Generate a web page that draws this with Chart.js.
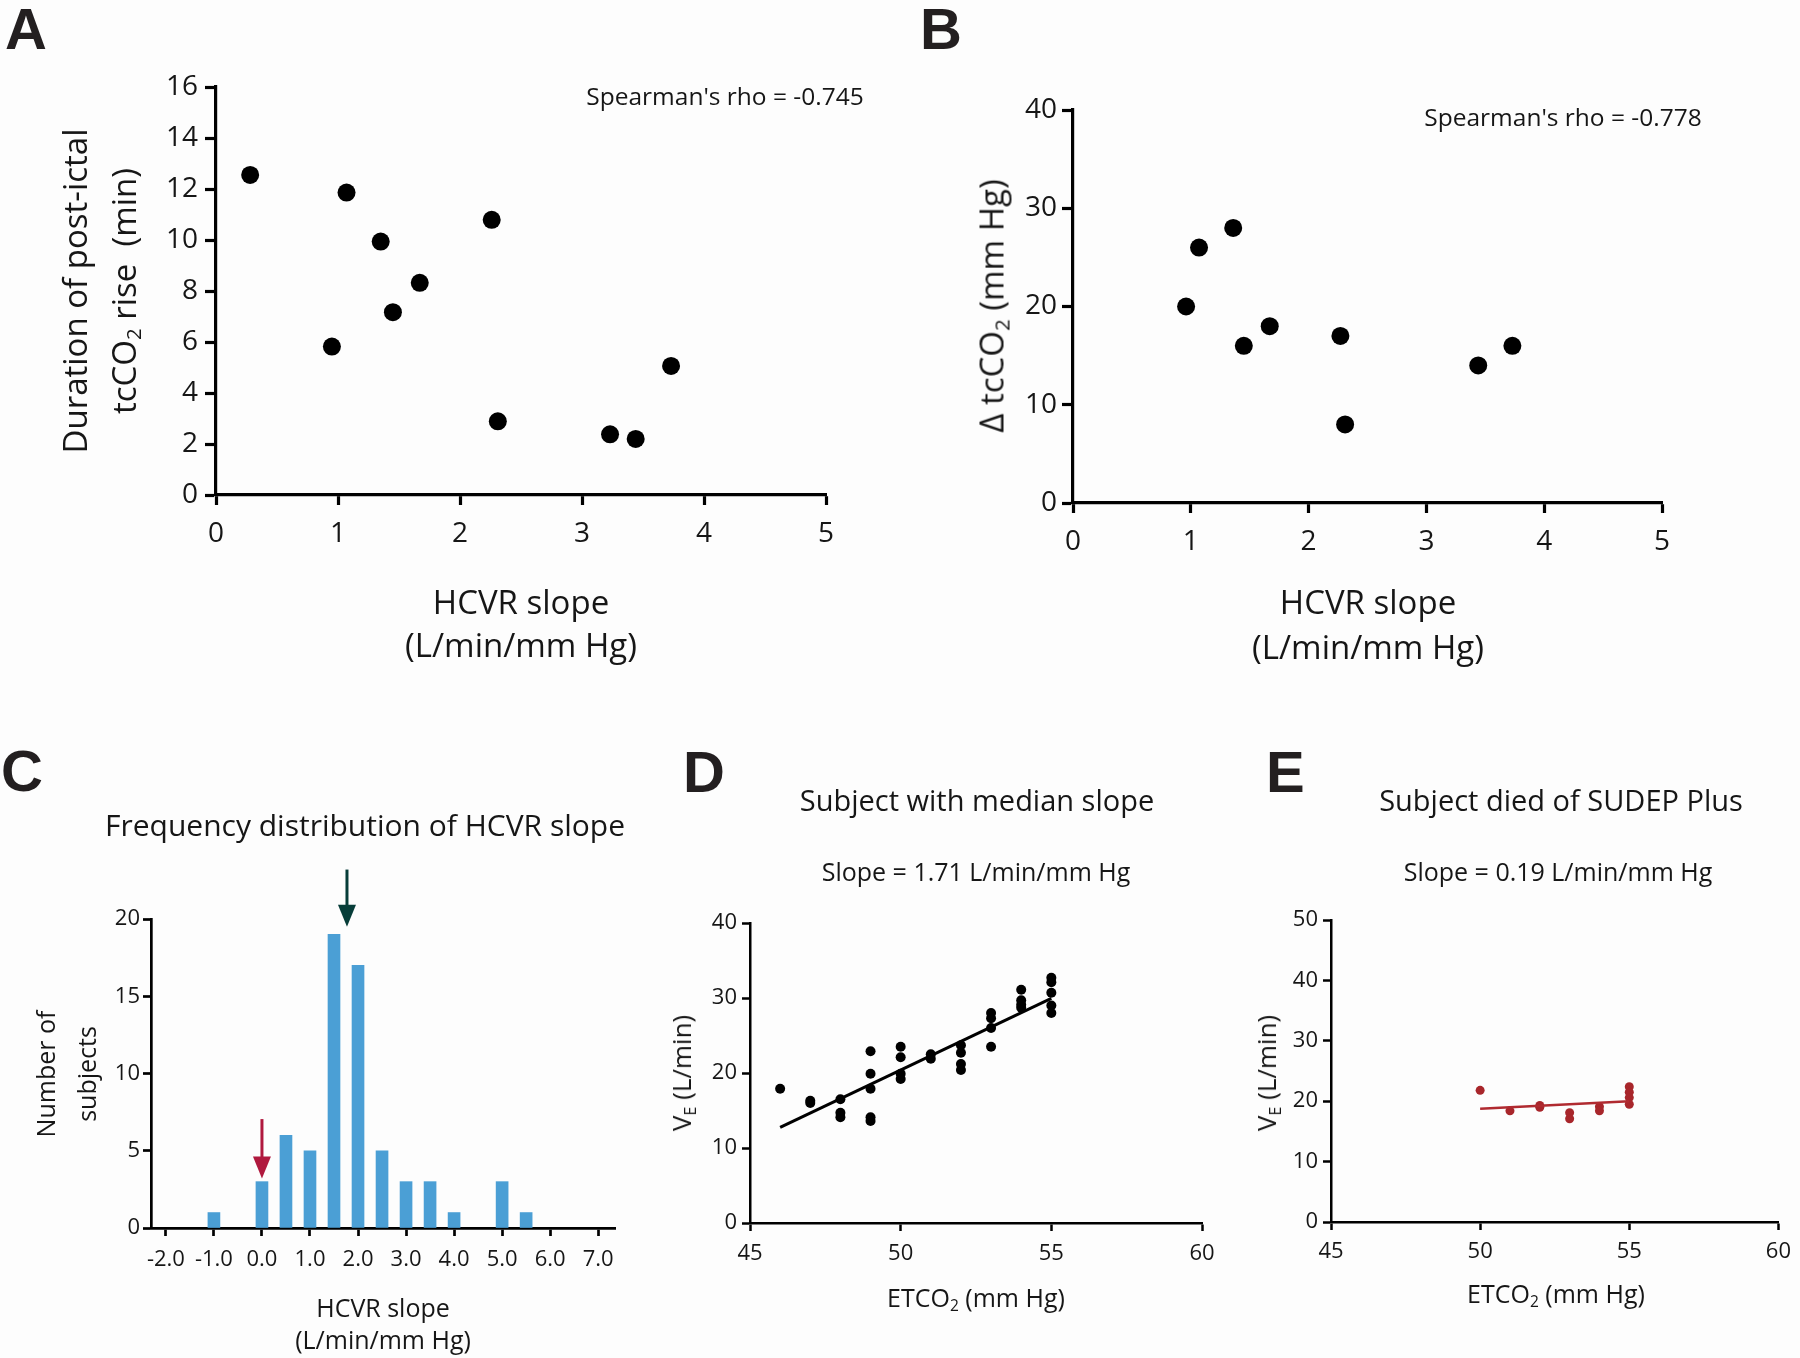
<!DOCTYPE html>
<html>
<head>
<meta charset="utf-8">
<title>HCVR slope figure</title>
<script src="https://cdn.jsdelivr.net/npm/chart.js@4.4.1/dist/chart.umd.min.js"></script>
<style>
  body { margin: 0; background: #fdfdfd; }
  #figure { position: relative; width: 1800px; height: 1358px; overflow: hidden; font-family: 'Open Sans', sans-serif; color: #161616; }
  #figure canvas { position: absolute; left: 0; top: 0; }
  .txt { position: absolute; white-space: nowrap; line-height: 1; transform: translate(-50%, -50%); }
  .rot { transform: translate(-50%, -50%) rotate(-90deg); }
  .panel { position: absolute; font-family: 'Liberation Sans', Arial, sans-serif; font-weight: bold; font-size: 58px; line-height: 1; color: #231f20; }
  sub { font-size: 0.62em; line-height: 0; vertical-align: -0.28em; }
</style>
</head>
<body>
<div id="figure">
  <canvas id="chartA" width="1800" height="1358"></canvas>
  <canvas id="chartB" width="1800" height="1358"></canvas>
  <canvas id="chartC" width="1800" height="1358"></canvas>
  <canvas id="chartD" width="1800" height="1358"></canvas>
  <canvas id="chartE" width="1800" height="1358"></canvas>

  <!-- panel A -->
  <div class="panel" style="left:5px;top:0px">A</div>
  <div class="txt" style="left:725px;top:96px;font-size:24.5px">Spearman's rho = -0.745</div>
  <div class="txt rot" style="left:74px;top:291px;font-size:33px">Duration of post-ictal</div>
  <div class="txt rot" style="left:123px;top:291px;font-size:33px">tcCO<sub>2</sub> rise&nbsp; (min)</div>
  <div class="txt" style="left:521px;top:601px;font-size:33px">HCVR slope</div>
  <div class="txt" style="left:521px;top:644px;font-size:33px">(L/min/mm Hg)</div>

  <!-- panel B -->
  <div class="panel" style="left:920px;top:0px">B</div>
  <div class="txt" style="left:1563px;top:117px;font-size:24.5px">Spearman's rho = -0.778</div>
  <div class="txt rot" style="left:991px;top:306px;font-size:33px">&Delta; tcCO<sub>2</sub> (mm Hg)</div>
  <div class="txt" style="left:1368px;top:601px;font-size:33px">HCVR slope</div>
  <div class="txt" style="left:1368px;top:646px;font-size:33px">(L/min/mm Hg)</div>

  <!-- panel C -->
  <div class="panel" style="left:1px;top:742px">C</div>
  <div class="txt" style="left:365px;top:825px;font-size:30px">Frequency distribution of HCVR slope</div>
  <div class="txt rot" style="left:45px;top:1074px;font-size:25px">Number of</div>
  <div class="txt rot" style="left:86px;top:1074px;font-size:25px">subjects</div>
  <div class="txt" style="left:383px;top:1307px;font-size:25px">HCVR slope</div>
  <div class="txt" style="left:383px;top:1339px;font-size:25px">(L/min/mm Hg)</div>

  <!-- panel D -->
  <div class="panel" style="left:683px;top:743px">D</div>
  <div class="txt" style="left:977px;top:799px;font-size:29px">Subject with median slope</div>
  <div class="txt" style="left:976px;top:871px;font-size:25px">Slope = 1.71 L/min/mm Hg</div>
  <div class="txt" style="left:976px;top:1297px;font-size:25px">ETCO<sub>2</sub> (mm Hg)</div>
  <div class="txt rot" style="left:681px;top:1073px;font-size:26px">V<sub>E</sub> (L/min)</div>

  <!-- panel E -->
  <div class="panel" style="left:1266px;top:743px">E</div>
  <div class="txt" style="left:1561px;top:799px;font-size:29px">Subject died of SUDEP Plus</div>
  <div class="txt" style="left:1558px;top:871px;font-size:25px">Slope = 0.19 L/min/mm Hg</div>
  <div class="txt" style="left:1556px;top:1293px;font-size:25px">ETCO<sub>2</sub> (mm Hg)</div>
  <div class="txt rot" style="left:1266px;top:1073px;font-size:26px">V<sub>E</sub> (L/min)</div>
</div>

<script>
// Panel A: HCVR slope vs duration of post-ictal tcCO2 rise
const hcvrA = [0.28, 0.95, 1.07, 1.35, 1.45, 1.67, 2.26, 2.31, 3.23, 3.44, 3.73];
const durationA = [12.55, 5.82, 11.86, 9.94, 7.17, 8.32, 10.79, 2.89, 2.38, 2.20, 5.06];

// Panel B: HCVR slope vs delta tcCO2
const hcvrB = [0.96, 1.07, 1.36, 1.45, 1.67, 2.27, 2.31, 3.44, 3.73];
const deltaB = [20, 26, 28, 16, 18, 17, 8, 14, 16];

// Panel C: frequency distribution (bin centres / counts)
const binCenters = [-1.0, 0.0, 0.5, 1.0, 1.5, 2.0, 2.5, 3.0, 3.5, 4.0, 5.0, 5.5];
const binCounts = [1, 3, 6, 5, 19, 17, 5, 3, 3, 1, 3, 1];
const histTicks = [-2, -1, 0, 1, 2, 3, 4, 5, 6, 7];
// arrows: median subject (dark) and SUDEP subject (red)
const arrowX = [1.77, 0.0];
const arrowTop = [23.2, 7.05];
const arrowTip = [19.5, 3.2];
const arrowColors = ['#073d39', '#b0193e'];

// Panel D: subject with median slope
const etco2D = [46, 47, 47, 48, 48, 48, 49, 49, 49, 49, 49, 50, 50, 50, 50, 51, 51,
                52, 52, 52, 52, 53, 53, 53, 53, 54, 54, 54, 54, 55, 55, 55, 55, 55];
const veD = [17.9, 16.3, 16.0, 16.5, 14.7, 14.1, 22.9, 19.9, 17.9, 14.1, 13.6, 23.5, 22.1, 19.9, 19.2, 22.5, 21.9,
             23.7, 22.7, 21.2, 20.4, 28.0, 27.3, 26.0, 23.5, 31.1, 29.7, 29.1, 28.7, 32.7, 32.1, 30.7, 29.0, 28.0];
const fitXD = [46, 55];
const fitYD = [12.76, 29.96];

// Panel E: subject died of SUDEP Plus
const etco2E = [50, 51, 52, 52, 53, 53, 54, 54, 55, 55, 55, 55];
const veE = [21.8, 18.4, 19.3, 19.0, 18.1, 17.1, 19.1, 18.4, 22.4, 21.5, 20.6, 19.5];
const fitXE = [50, 55];
const fitYE = [18.74, 20.0];

const INK = '#161616';
const FONT = "'Open Sans', sans-serif";
const W = 1800, H = 1358, YW = 80, XH = 60;

function pairs(xs, ys) {
  return xs.map((x, i) => ({ x: x, y: ys[i] }));
}

// chart area edges in page pixels -> layout padding
function box(L, T, R, B) {
  return { left: L - YW, top: T, right: W - R, bottom: H - B - XH };
}

function axis(c) {
  const a = {
    type: 'linear',
    min: c.min,
    max: c.max,
    offset: false,
    ticks: {
      stepSize: c.step,
      color: INK,
      font: { family: FONT, size: c.font },
      padding: c.pad,
      autoSkip: false,
      maxRotation: 0
    },
    grid: {
      display: true,
      drawOnChartArea: false,
      drawTicks: true,
      tickLength: c.tick,
      tickWidth: c.lw,
      tickColor: '#000',
      offset: false
    },
    border: { display: true, color: '#000', width: c.lw },
    afterFit: function(scale) {
      if (scale.isHorizontal()) scale.height = XH; else scale.width = YW;
    }
  };
  if (c.fmt) a.ticks.callback = c.fmt;
  if (c.values) {
    a.afterBuildTicks = function(scale) {
      scale.ticks = c.values.map(v => ({ value: v }));
    };
  }
  return a;
}

function baseOptions(pad, scales) {
  return {
    responsive: false,
    animation: false,
    devicePixelRatio: 1,
    events: [],
    layout: { padding: pad },
    plugins: { legend: { display: false }, tooltip: { enabled: false } },
    scales: scales
  };
}

// Panel A
new Chart(document.getElementById('chartA'), {
  type: 'scatter',
  data: {
    datasets: [{
      data: pairs(hcvrA, durationA),
      backgroundColor: '#000',
      borderWidth: 0,
      pointRadius: 9
    }]
  },
  options: baseOptions(box(216, 87, 826, 495), {
    x: axis({ min: 0, max: 5, step: 1, font: 28, pad: 12, tick: 10, lw: 3.2 }),
    y: axis({ min: 0, max: 16, step: 2, font: 28, pad: 7, tick: 11, lw: 3.2 })
  })
});

// Panel B
new Chart(document.getElementById('chartB'), {
  type: 'scatter',
  data: {
    datasets: [{
      data: pairs(hcvrB, deltaB),
      backgroundColor: '#000',
      borderWidth: 0,
      pointRadius: 9
    }]
  },
  options: baseOptions(box(1073, 110, 1662, 503), {
    x: axis({ min: 0, max: 5, step: 1, font: 28, pad: 12, tick: 10, lw: 3.2 }),
    y: axis({ min: 0, max: 40, step: 10, font: 28, pad: 5, tick: 11, lw: 3.2 })
  })
});

// arrows above the histogram
const arrowPlugin = {
  id: 'arrows',
  afterDatasetsDraw(chart) {
    const ctx = chart.ctx;
    const xs = chart.scales.x, ys = chart.scales.y;
    ctx.save();
    arrowX.forEach((v, i) => {
      const px = xs.getPixelForValue(v);
      const top = ys.getPixelForValue(arrowTop[i]);
      const tip = ys.getPixelForValue(arrowTip[i]);
      const head = 22, half = 9;
      ctx.strokeStyle = arrowColors[i];
      ctx.fillStyle = arrowColors[i];
      ctx.lineWidth = 3;
      ctx.beginPath();
      ctx.moveTo(px, top);
      ctx.lineTo(px, tip - head + 1);
      ctx.stroke();
      ctx.beginPath();
      ctx.moveTo(px - half, tip - head);
      ctx.lineTo(px + half, tip - head);
      ctx.lineTo(px, tip);
      ctx.closePath();
      ctx.fill();
    });
    ctx.restore();
  }
};

// Panel C
new Chart(document.getElementById('chartC'), {
  type: 'bar',
  data: {
    datasets: [{
      data: pairs(binCenters, binCounts),
      backgroundColor: '#4b9fd5',
      borderWidth: 0,
      barThickness: 12
    }]
  },
  options: baseOptions(box(151, 919, 615, 1228), {
    x: axis({ min: -2.31, max: 7.35, font: 22, pad: 11, tick: 8, lw: 2.7, values: histTicks,
              fmt: v => Number(v).toFixed(1) }),
    y: axis({ min: 0, max: 20, step: 5, font: 22, pad: 3, tick: 8, lw: 2.7 })
  }),
  plugins: [arrowPlugin]
});

// Panel D
new Chart(document.getElementById('chartD'), {
  type: 'scatter',
  data: {
    datasets: [{
      type: 'line',
      data: pairs(fitXD, fitYD),
      borderColor: '#000',
      borderWidth: 3,
      pointRadius: 0,
      order: 0
    }, {
      data: pairs(etco2D, veD),
      backgroundColor: '#000',
      borderWidth: 0,
      pointRadius: 5,
      order: 1
    }]
  },
  options: baseOptions(box(750, 923, 1202, 1223), {
    x: axis({ min: 45, max: 60, step: 5, font: 22, pad: 10, tick: 8, lw: 2.5 }),
    y: axis({ min: 0, max: 40, step: 10, font: 22, pad: 5, tick: 8, lw: 2.5 })
  })
});

// Panel E
new Chart(document.getElementById('chartE'), {
  type: 'scatter',
  data: {
    datasets: [{
      type: 'line',
      data: pairs(fitXE, fitYE),
      borderColor: '#b02a30',
      borderWidth: 2.5,
      pointRadius: 0,
      order: 0
    }, {
      data: pairs(etco2E, veE),
      backgroundColor: '#a8262b',
      borderWidth: 0,
      pointRadius: 4.5,
      order: 1
    }]
  },
  options: baseOptions(box(1331, 920, 1781, 1222), {
    x: axis({ min: 45, max: 60, step: 5, font: 22, pad: 9, tick: 8, lw: 2.5 }),
    y: axis({ min: 0, max: 50, step: 10, font: 22, pad: 5, tick: 8, lw: 2.5 })
  })
});
</script>
</body>
</html>
